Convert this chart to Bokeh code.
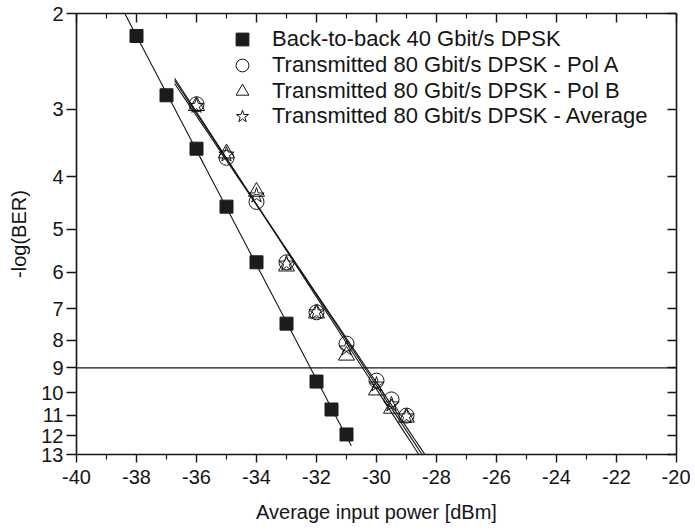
import numpy as np
from bokeh.plotting import figure
from bokeh.models import (Range1d, FixedTicker, PrintfTickFormatter, LinearAxis, LogAxis,
                          Span, Legend, LegendItem)
from bokeh.embed import file_html
from bokeh.resources import INLINE

# ---- data ----
b2b_power = [-38, -37, -36, -35, -34, -33, -32, -31.5, -31]
b2b_ber = [2.20, 2.83, 3.55, 4.54, 5.75, 7.46, 9.54, 10.74, 11.94]

tx_power = [-36, -35, -34, -33, -32, -31, -30, -29.5, -29]
polA_ber = [2.94, 3.69, 4.45, 5.75, 7.11, 8.12, 9.50, 10.29, 11.02]
polB_ber = [2.96, 3.62, 4.26, 5.85, 7.14, 8.54, 9.90, 10.70, 11.11]
avg_ber = [2.96, 3.64, 4.33, 5.78, 7.11, 8.29, 9.66, 10.51, 11.06]

b2b_fit_range = [-38.44, -30.84]
tx_fit_range = [-36.73, -28.0]

x_ticks = [-40, -38, -36, -34, -32, -30, -28, -26, -24, -22, -20]
x_minor = [-39, -37, -35, -33, -31, -29, -27, -25, -23, -21]
y_ticks = [2, 3, 4, 5, 6, 7, 8, 9, 10, 11, 12, 13]
threshold = 9

labels = ["Back-to-back 40 Gbit/s DPSK",
          "Transmitted 80 Gbit/s DPSK - Pol A",
          "Transmitted 80 Gbit/s DPSK - Pol B",
          "Transmitted 80 Gbit/s DPSK - Average"]

FONT = "Liberation Sans"
INK = "#151515"

p = figure(width=690, height=525, x_range=Range1d(-40, -20), y_range=Range1d(13, 2),
           y_axis_type="log", output_backend="svg", toolbar_location=None,
           min_border_left=76, min_border_right=14, min_border_top=13, min_border_bottom=71)
p.xgrid.visible = False
p.ygrid.visible = False
p.outline_line_color = None
p.background_fill_color = "white"
p.border_fill_color = "white"


def fit_line(xs, ys, xr):
    k, b = np.polyfit(np.array(xs, float), np.log10(np.array(ys, float)), 1)
    xx = np.linspace(xr[0], xr[1], 50)
    return xx, 10 ** (k * xx + b)


# fit lines
for xs, ys, xr in [(b2b_power, b2b_ber, b2b_fit_range), (tx_power, polA_ber, tx_fit_range),
                   (tx_power, polB_ber, tx_fit_range), (tx_power, avg_ber, tx_fit_range)]:
    lx, ly = fit_line(xs, ys, xr)
    p.line(lx, ly, line_color=INK, line_width=1.1)

p.add_layout(Span(location=threshold, dimension="width", line_color=INK, line_width=1.2))

r_b2b = p.scatter(b2b_power, b2b_ber, marker="square", size=13, fill_color="#1c1c1c",
                  line_color="#1c1c1c")
r_a = p.scatter(tx_power, polA_ber, marker="circle", size=15, fill_color=None,
                line_color=INK, line_width=1)
r_b = p.scatter(tx_power, polB_ber, marker="triangle", size=16, fill_color=None,
                line_color=INK, line_width=1)
r_avg = p.scatter(tx_power, avg_ber, marker="star", size=16, fill_color=None,
                  line_color=INK, line_width=1)

# axes
xa = p.xaxis[0]
xa.ticker = FixedTicker(ticks=x_ticks, minor_ticks=x_minor)
xa.formatter = PrintfTickFormatter(format="%d")
xa.axis_label = "Average input power [dBm]"
ya = p.yaxis[0]
ya.ticker = FixedTicker(ticks=y_ticks, minor_ticks=[])
ya.formatter = PrintfTickFormatter(format="%d")
ya.axis_label = "-log(BER)"

for ax in (xa, ya):
    ax.axis_line_color = INK
    ax.axis_line_width = 1.6
    ax.major_tick_line_color = INK
    ax.major_tick_line_width = 1.4
    ax.minor_tick_line_color = INK
    ax.minor_tick_line_width = 1.2
    ax.major_label_text_font = FONT
    ax.major_label_text_font_size = "20px"
    ax.major_label_text_color = INK
    ax.axis_label_text_font = FONT
    ax.axis_label_text_font_size = "20px"
    ax.axis_label_text_font_style = "normal"
    ax.axis_label_text_color = INK

xa.major_tick_in = 0
xa.major_tick_out = 8
xa.minor_tick_in = 0
xa.minor_tick_out = 5
xa.major_label_standoff = 7
xa.axis_label_standoff = 14

ya.major_tick_in = 0
ya.major_tick_out = 10
ya.minor_tick_in = 0
ya.minor_tick_out = 0
ya.major_label_standoff = 3
ya.axis_label_standoff = 8

top = LinearAxis(ticker=FixedTicker(ticks=x_ticks, minor_ticks=x_minor),
                 major_tick_in=9, major_tick_out=0, minor_tick_in=5, minor_tick_out=0,
                 major_label_text_color=None, major_label_text_font_size="1px",
                 major_label_standoff=0,
                 axis_line_color=INK, axis_line_width=1.6, major_tick_line_color=INK,
                 major_tick_line_width=1.4, minor_tick_line_color=INK, minor_tick_line_width=1.2)
p.add_layout(top, "above")

right = LogAxis(ticker=FixedTicker(ticks=y_ticks, minor_ticks=[]),
                major_tick_in=9, major_tick_out=0, minor_tick_in=0, minor_tick_out=0,
                major_label_text_color=None, major_label_text_font_size="1px",
                major_label_standoff=0,
                axis_line_color=INK, axis_line_width=1.6, major_tick_line_color=INK,
                major_tick_line_width=1.4)
p.add_layout(right, "right")

# one legend box per entry so that rows can be spaced closer than the glyph box
legend_rows = [(r_b2b, 399), (r_a, 373), (r_b, 347), (r_avg, 322)]
for (rend, ypos), lab in zip(legend_rows, labels):
    lg = Legend(items=[LegendItem(label=lab, renderers=[rend])],
                location=(150, ypos), orientation="vertical",
                glyph_width=32, glyph_height=32, label_height=32, spacing=0,
                label_standoff=14, padding=0, margin=0,
                border_line_color=None, background_fill_alpha=0,
                label_text_font=FONT, label_text_font_size="22px", label_text_color=INK)
    p.add_layout(lg, "center")

open("out.html", "w").write(file_html(p, INLINE))
